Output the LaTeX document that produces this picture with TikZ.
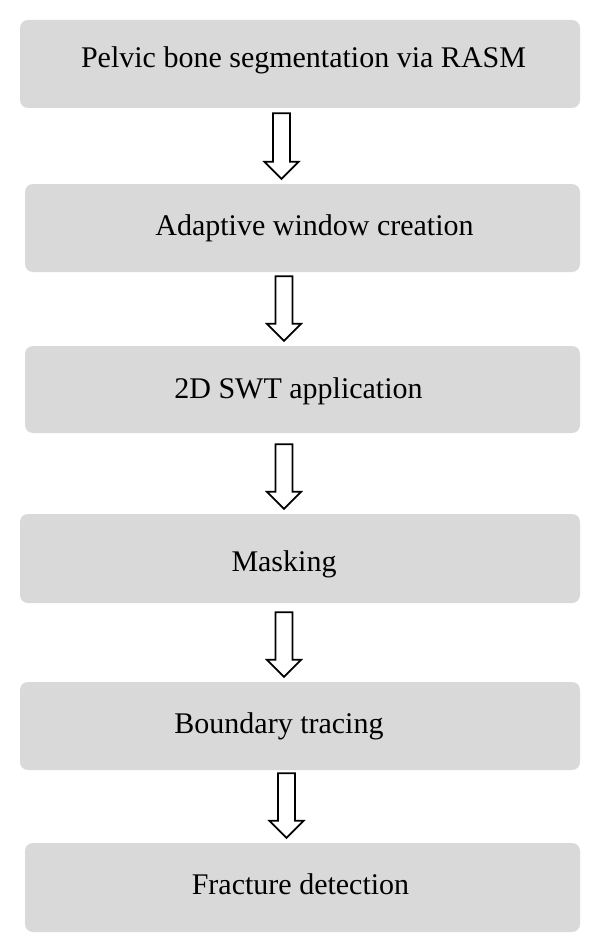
\documentclass[tikz,border=0pt]{standalone}
\usepackage{fontspec}
\setmainfont{Liberation Serif}
\usetikzlibrary{calc}
\definecolor{boxgray}{RGB}{217,217,217}
\tikzset{
	stage/.style={rectangle,rounded corners=8pt,fill=boxgray,inner sep=0pt,minimum height=88pt},
	stagetext/.style={anchor=base,inner sep=0pt,font=\fontsize{30}{36}\selectfont},
	blockarrow/.style={draw=black,line width=1.8pt,fill=white,line join=miter,
		to path={let \p1=(\tikztostart), \p2=(\tikztotarget) in
			(\x1-8.5pt,\y1) -- (\x1-8.5pt,\y2+17pt) -- (\x1-17pt,\y2+17pt) -- (\x1,\y2)
			-- (\x1+17pt,\y2+17pt) -- (\x1+8.5pt,\y2+17pt) -- (\x1+8.5pt,\y1) -- cycle}}
}
\begin{document}
\begin{tikzpicture}[x=1pt,y=-1pt]
	\useasboundingbox (0,0) rectangle (600,952);
	% processing stages
	\node[stage,minimum width=560pt] (b1) at (300,64) {};
	\node[stage,minimum width=555pt] (b2) at (302.5,228) {};
	\node[stage,minimum width=555pt,minimum height=87pt] (b3) at (302.5,389.5) {};
	\node[stage,minimum width=560pt,minimum height=89pt] (b4) at (300,558.5) {};
	\node[stage,minimum width=560pt] (b5) at (300,726) {};
	\node[stage,minimum width=555pt,minimum height=89pt] (b6) at (302.5,887.5) {};
	\node[stagetext] (t1) at (303.5,68) {Pelvic bone segmentation via RASM};
	\node[stagetext] (t2) at (314.5,235) {Adaptive window creation};
	\node[stagetext] (t3) at (298.5,398) {2D SWT application};
	\node[stagetext] (t4) at (284,571) {Masking};
	\node[stagetext] (t5) at (279,733) {Boundary tracing};
	\node[stagetext] (t6) at (300.5,894) {Fracture detection};
	% arrows between stages
	\foreach \a/\b/\dx/\dy in {b1/b2/-18.5/-5,b2/b3/-18.5/-4,b3/b4/-18.5/-11,b4/b5/-16/-9,b5/b6/-13.5/-3}{
		\draw[blockarrow] ([shift={(\dx pt,\dy pt)}]\a.south) to ([yshift=5pt]\b.north);
	}
\end{tikzpicture}
\end{document}
